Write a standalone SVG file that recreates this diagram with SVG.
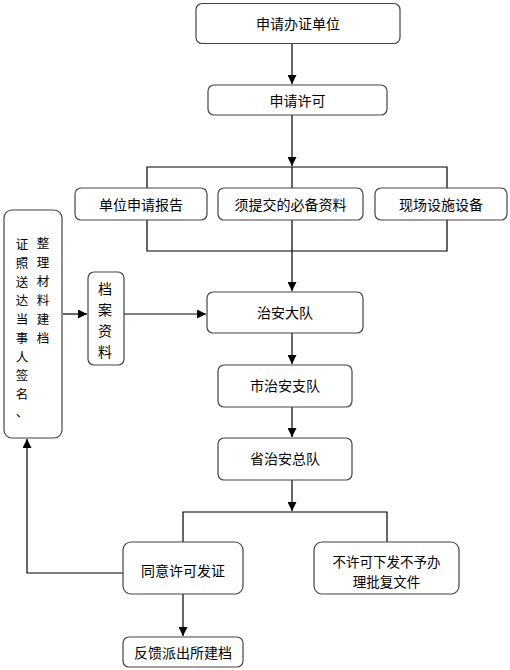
<svg xmlns="http://www.w3.org/2000/svg" width="510" height="670" viewBox="0 0 510 670">
<defs>
<marker id="ah" viewBox="0 0 10 10" refX="10" refY="5" markerWidth="9" markerHeight="9" markerUnits="userSpaceOnUse" orient="auto">
<path d="M0,0 L10,5 L0,10 z" fill="#000"/>
</marker>
<style>
.box{fill:#fff;stroke:#444;stroke-width:1.2}
.t{font-family:"Noto Sans CJK SC","Liberation Sans",sans-serif;font-size:14px;fill:#000;text-anchor:middle;dominant-baseline:central}
.v{font-size:12.5px}
.m{font-size:13.5px}
.c{fill:none;stroke:#000;stroke-width:1.2}
</style>
</defs>
<rect width="510" height="670" fill="#fff"/>
<g id="connectors">
<path class="c" d="M292,44 V84" marker-end="url(#ah)"/>
<path class="c" d="M292,115 V166" marker-end="url(#ah)"/>
<path class="c" d="M147,188 V167 H447 V188"/>
<path class="c" d="M292,167 V188"/>
<path class="c" d="M147,220 V251 H447 V220"/>
<path class="c" d="M292,220 V291" marker-end="url(#ah)"/>
<path class="c" d="M292,333 V364" marker-end="url(#ah)"/>
<path class="c" d="M292,407 V437" marker-end="url(#ah)"/>
<path class="c" d="M292,480 V511" marker-end="url(#ah)"/>
<path class="c" d="M183,542 V512 H387 V542"/>
<path class="c" d="M183,594 V636" marker-end="url(#ah)"/>
<path class="c" d="M123,573 H27 V439" marker-end="url(#ah)"/>
<path class="c" d="M63,314 H87" marker-end="url(#ah)"/>
<path class="c" d="M124,314 H206" marker-end="url(#ah)"/>
</g>
<g id="n1"><rect class="box" x="196" y="3.5" width="204" height="40" rx="6"/><text class="t" x="298" y="23">申请办证单位</text></g>
<g id="n2"><rect class="box" x="208" y="85" width="179" height="30" rx="6"/><text class="t" x="297.5" y="100">申请许可</text></g>
<g id="n3"><rect class="box" x="75" y="188" width="132" height="32" rx="6"/><text class="t" x="141" y="204">单位申请报告</text></g>
<g id="n4"><rect class="box" x="218" y="188" width="145" height="32" rx="6"/><text class="t" x="290.5" y="204">须提交的必备资料</text></g>
<g id="n5"><rect class="box" x="375" y="188" width="132" height="32" rx="6"/><text class="t" x="441" y="204">现场设施设备</text></g>
<g id="n6"><rect class="box" x="207" y="292" width="156" height="41" rx="6"/><text class="t" x="285" y="312">治安大队</text></g>
<g id="n7"><rect class="box" x="218" y="365" width="134" height="42" rx="6"/><text class="t" x="285" y="385">市治安支队</text></g>
<g id="n8"><rect class="box" x="218" y="438" width="134" height="42" rx="6"/><text class="t" x="285" y="458">省治安总队</text></g>
<g id="n9"><rect class="box" x="123" y="542" width="120" height="52" rx="8"/><text class="t" x="183" y="570">同意许可发证</text></g>
<g id="n10"><rect class="box" x="314" y="542" width="145" height="52" rx="8"/><text class="t m"><tspan x="386.5" y="561">不许可下发不予办</tspan><tspan x="386.5" y="581">理批复文件</tspan></text></g>
<g id="n11"><rect class="box" x="123" y="637" width="120" height="30" rx="6"/><text class="t" x="183" y="652">反馈派出所建档</text></g>
<g id="n12"><rect class="box" x="4" y="210" width="58" height="228" rx="8"/>
<text class="t v" x="43" y="242">整</text><text class="t v" x="43" y="261">理</text><text class="t v" x="43" y="280">材</text><text class="t v" x="43" y="299">料</text><text class="t v" x="43" y="318">建</text><text class="t v" x="43" y="337">档</text>
<text class="t v" x="22" y="243">证</text><text class="t v" x="22" y="262">照</text><text class="t v" x="22" y="281">送</text><text class="t v" x="22" y="299.5">达</text><text class="t v" x="22" y="318">当</text><text class="t v" x="22" y="337">事</text><text class="t v" x="22" y="356">人</text><text class="t v" x="22" y="374.5">签</text><text class="t v" x="22" y="393">名</text><text class="t v" x="22" y="411.5">、</text>
</g>
<g id="n13"><rect class="box" x="88" y="272" width="36" height="93" rx="6"/>
<text class="t" x="105" y="288">档</text><text class="t" x="105" y="309">案</text><text class="t" x="105" y="330">资</text><text class="t" x="105" y="351">料</text></g>
</svg>
